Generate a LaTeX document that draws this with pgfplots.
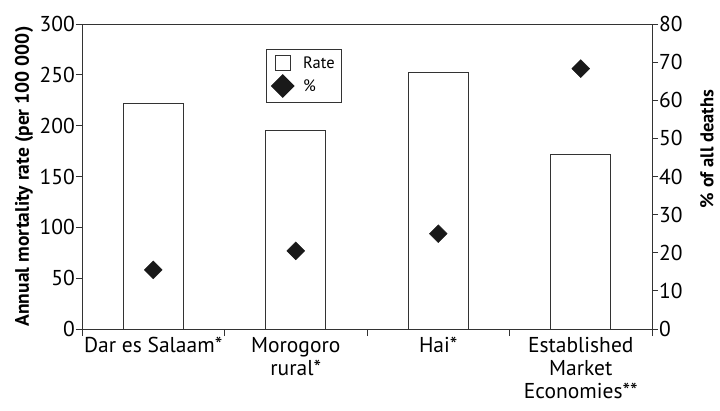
\documentclass[border=0pt]{standalone}
\usepackage{pgfplots}
\pgfplotsset{compat=1.18}
\usepackage{fontspec}
\setmainfont{PT Sans}
\begin{document}
\begin{tikzpicture}
\pgfplotsset{
  every axis/.append style={
    width=570pt,height=305pt,scale only axis,
    xmin=-0.5,xmax=3.5,
    /pgf/number format/assume math mode=true,
    font=\fontsize{21.5}{23}\selectfont,
    axis line style={draw=black!80, line width=0.9pt},
    every tick/.style={draw=black!80, line width=0.9pt},
    ytick align=outside, xtick align=outside,
    major tick length=6pt, minor tick length=7pt,
    yticklabel style={inner xsep=1pt},
  }
}
\begin{axis}[
  name=main,
  ymin=0,ymax=300, ytick={0,50,...,300},
  ytick pos=left, xtick pos=bottom,
  xtick={0,1,2,3},
  xticklabels={Dar es Salaam*, Morogoro\\rural*, Hai*, Established\\Market\\Economies**},
  xticklabel style={align=center, anchor=north, yshift=1pt},
  major x tick style={draw=none},
  minor xtick={-0.5,0.5,1.5,2.5,3.5},
  ylabel={\fontsize{19.5}{21}\selectfont\bfseries Annual mortality rate (per 100 000)},
  ylabel style={yshift=2pt},
]
\addplot[ybar, bar width=60pt, fill=white, draw=black!80, line width=0.9pt]
  coordinates {(0,222) (1,195) (2,252) (3,172)};
\end{axis}
\begin{axis}[
  ymin=0,ymax=80, ytick={0,10,...,80},
  axis x line=none, axis y line*=right,
  clip=false,
  legend style={at={(0.3228,0.918)}, anchor=north west, draw=black!80,
    line width=0.9pt, font=\fontsize{16.5}{18}\selectfont, inner xsep=5pt, inner ysep=5pt,
    row sep=3pt},
  legend cell align=left,
]
\addlegendimage{only marks, mark=square, mark size=7.3pt, draw=black!80, line width=0.8pt}
\addlegendentry{\hspace{7pt}Rate\hspace{4pt}}
\addplot[only marks, mark=square*, mark size=6.3pt, mark options={rotate=45, fill=black!90, draw=black!90}, forget plot]
  coordinates {(0,15.5) (1,20.5) (2,25) (3,68.3)};
\addlegendimage{only marks, mark=square*, mark size=8pt, mark options={rotate=45, fill=black!90, draw=black!90}}
\addlegendentry{\hspace{7pt}\%}
\node[rotate=90, anchor=center, inner sep=0pt, font=\fontsize{18.5}{20}\selectfont\bfseries]
  at ([xshift=55pt]rel axis cs:1,0.59) {\% of all deaths};
\end{axis}
\pgfresetboundingbox
\path[use as bounding box] ([shift={(-82pt,-81pt)}]main.south west) rectangle ([shift={(68pt,24pt)}]main.north east);
\end{tikzpicture}
\end{document}
